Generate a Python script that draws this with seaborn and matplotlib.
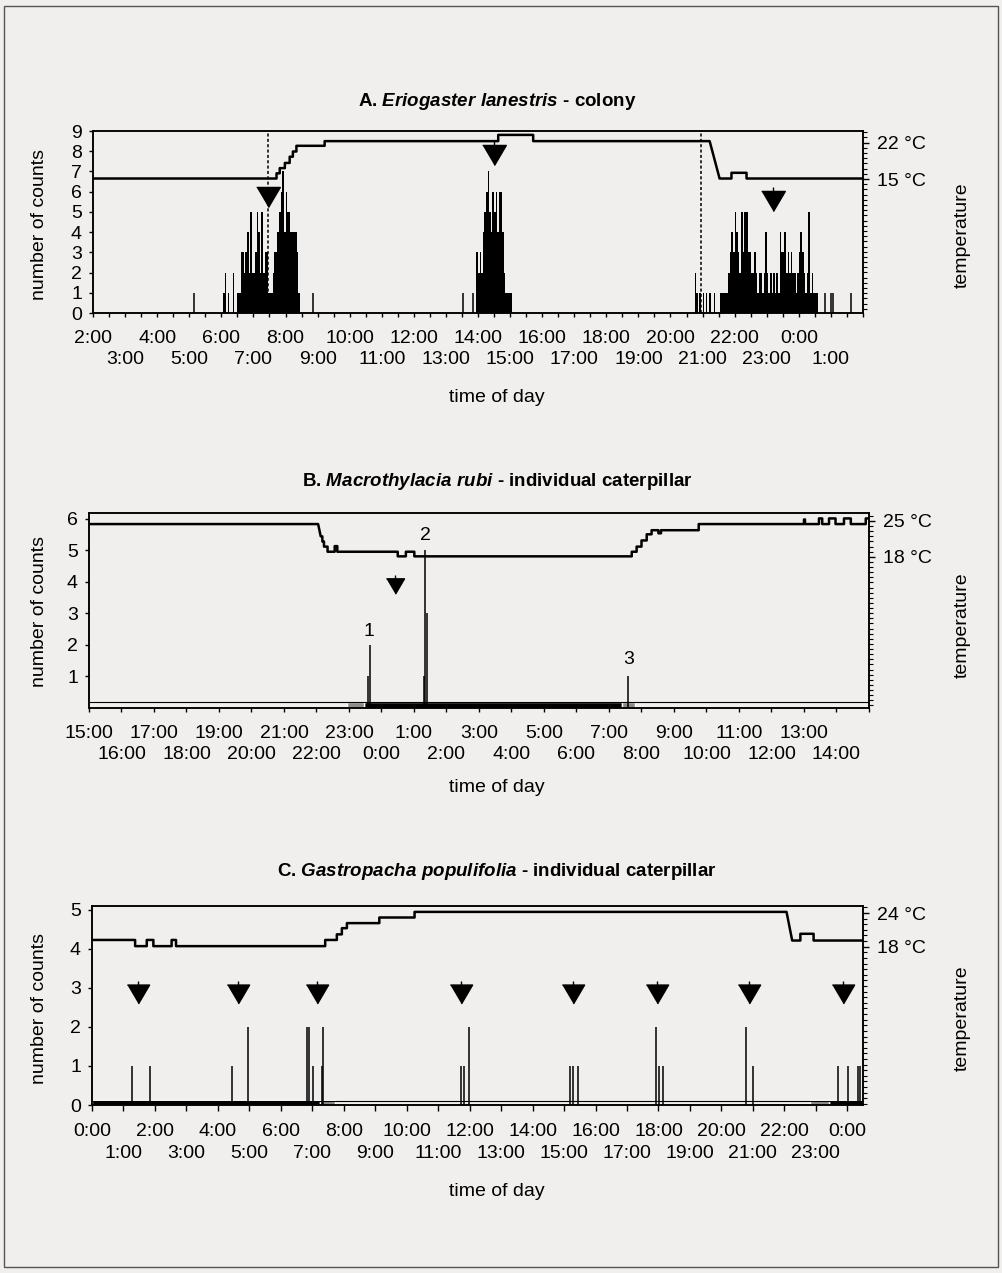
import numpy as np
import seaborn as sns
import matplotlib
matplotlib.use('Agg')
from matplotlib import pyplot as plt
from matplotlib.ticker import MultipleLocator, FixedLocator
from matplotlib.patches import Rectangle

BG = '#f0efed'
GRAY = '#8c8c8c'

# ---------------- A. Eriogaster lanestris - colony ----------------
# time in hours (2.0 = 2:00 of day 1, 26.0 = 2:00 of day 2), counts in 3-min bins
a_step = 0.05
a1_start = 6.05
a1_counts = [1, 2, 0, 1, 0, 0, 2, 0, 0, 1, 1, 3, 3, 2, 3, 4, 2, 5, 2, 2,
             3, 5, 4, 2, 5, 2, 3, 3, 1, 1, 1, 2, 3, 3, 4, 5, 6, 7, 4, 6,
             5, 5, 4, 4, 4, 4, 3, 1]
a2_start = 13.95
a2_counts = [3, 2, 3, 2, 4, 5, 6, 7, 5, 4, 6, 5, 6, 4, 6, 6, 4, 2, 1, 1, 1, 1]
a3_start = 20.75
a3_counts = [2, 1, 0, 1, 0, 1, 0, 1, 0, 1, 0, 0, 1, 0, 0, 0, 1, 1, 1, 1,
             1, 2, 3, 4, 3, 5, 4, 3, 2, 5, 3, 5, 5, 3, 3, 2, 2, 3, 2, 1,
             2, 2, 1, 2, 4, 2, 1, 2, 1, 2, 1, 2, 1, 4, 3, 3, 4, 2, 3, 2,
             3, 2, 2, 1, 2, 3, 4, 3, 2, 1, 2, 5, 1, 2, 1, 1, 1]
a_single_t = [5.15, 8.86, 13.52, 13.85, 24.8, 25.0, 25.05, 25.63]
a_single_n = [1, 1, 1, 1, 1, 1, 1, 1]
a_temp_t = [2.0, 7.72, 7.72, 7.82, 7.82, 7.98, 7.98, 8.13, 8.13, 8.23, 8.23, 8.34, 8.34,
            9.22, 9.22, 14.63, 14.63, 15.72, 15.72, 21.22, 21.53, 21.9, 21.9, 22.37, 22.37, 26.0]
a_temp_c = [15.1, 15.1, 16.1, 16.1, 17.1, 17.1, 18.1, 18.1, 19.3, 19.3, 20.3, 20.3, 21.4,
            21.4, 22.3, 22.3, 23.5, 23.5, 22.3, 22.3, 15.1, 15.1, 16.2, 16.2, 15.1, 15.1]
a_arrow_t = [7.47, 14.49, 23.2]
a_arrow_y = [5.72, 7.82, 5.54]
a_stem_top = [5.72, 8.56, 6.25]
a_dotted_t = [7.47, 20.96]

# ---------------- B. Macrothylacia rubi - individual caterpillar ----------------
b_bar_t = [23.60, 23.64, 25.31, 25.35, 25.39, 31.6]
b_bar_n = [1, 2, 1, 5, 3, 1]
b_label_t = [23.62, 25.35, 31.6]
b_label_y = [2.42, 5.49, 1.54]
b_label_txt = ['1', '2', '3']
b_temp_t = [15.0, 22.05, 22.13, 22.18, 22.18, 22.23, 22.23, 22.34, 22.34, 22.56, 22.56,
            22.64, 22.64, 24.5, 24.5, 24.75, 24.75, 25.01, 25.01, 31.70, 31.70, 31.85,
            31.85, 32.0, 32.0, 32.16, 32.16, 32.31, 32.31, 32.52, 32.52, 32.6, 32.6,
            33.76, 33.76, 37.0, 37.0, 37.03, 37.03, 37.46, 37.46, 37.56, 37.56, 37.77,
            37.77, 37.97, 37.97, 38.23, 38.23, 38.44, 38.44, 38.9, 38.9, 39.0]
b_temp_c = [24.4, 24.4, 22.0, 22.0, 21.0, 21.0, 20.0, 20.0, 19.0, 19.0, 20.1,
            20.1, 19.0, 19.0, 18.1, 18.1, 19.0, 19.0, 18.1, 18.1, 19.0, 19.0,
            20.0, 20.0, 21.2, 21.2, 22.4, 22.4, 23.2, 23.2, 22.6, 22.6, 23.2,
            23.2, 24.4, 24.4, 25.3, 25.3, 24.4, 24.4, 25.5, 25.5, 24.4, 24.4,
            25.5, 25.5, 24.4, 24.4, 25.5, 25.5, 24.4, 24.4, 25.5, 25.5]
b_arrow_t = [24.41]
b_arrow_y = [3.86]
b_stem_top = [4.22]
b_dark = [(23.46, 31.39)]
b_dusk = [(22.95, 23.46), (31.39, 31.79)]

# ---------------- C. Gastropacha populifolia - individual caterpillar ----------------
c_bar_t = [1.26, 1.84, 4.44, 4.95, 6.84, 6.88, 7.02, 7.32, 7.35, 11.72, 11.81, 11.98,
           15.2, 15.3, 15.44, 17.92, 18.03, 18.15, 20.78, 21.0, 23.7, 24.03, 24.34, 24.42]
c_bar_n = [1, 1, 1, 2, 2, 2, 1, 1, 2, 1, 1, 2,
           1, 1, 1, 2, 1, 1, 2, 1, 1, 1, 1, 1]
c_temp_t = [0.0, 1.37, 1.37, 1.74, 1.74, 1.95, 1.95, 2.53, 2.53, 2.67, 2.67, 7.41, 7.41,
            7.78, 7.78, 7.94, 7.94, 8.1, 8.1, 9.13, 9.13, 10.25, 10.25, 22.07, 22.25,
            22.51, 22.51, 22.93, 22.93, 24.5]
c_temp_c = [19.2, 19.2, 18.1, 18.1, 19.2, 19.2, 18.1, 18.1, 19.2, 19.2, 18.1, 18.1, 19.2,
            19.2, 20.2, 20.2, 21.3, 21.3, 22.2, 22.2, 23.2, 23.2, 24.2, 24.2, 19.1,
            19.1, 20.3, 20.3, 19.1, 19.1]
c_arrow_t = [1.45, 4.65, 7.14, 11.72, 15.3, 17.95, 20.87, 23.87]
c_arrow_y = [2.85] * 8
c_stem_top = [3.19] * 8
c_dark = [(0.0, 7.25), (23.41, 24.5)]
c_dusk = [(7.25, 7.73), (22.83, 23.41)]

sns.set_theme(style='ticks', rc={'axes.facecolor': BG, 'figure.facecolor': BG,
                                 'axes.edgecolor': 'black', 'axes.linewidth': 1.1,
                                 'xtick.color': 'black', 'ytick.color': 'black',
                                 'text.color': 'black'})
plt.rcParams['font.family'] = ['Liberation Sans', 'DejaVu Sans']
plt.rcParams['mathtext.fontset'] = 'custom'
plt.rcParams['mathtext.it'] = 'Liberation Sans:italic:bold'

W, H = 1003, 1273
fig = plt.figure(figsize=(W / 100, H / 100), dpi=100)
fig.patches.append(Rectangle((4 / W, 6 / H), 994 / W, 1261 / H, transform=fig.transFigure,
                             fill=False, lw=1.0, ec='#555555'))

TRI = [(-1, 0.85), (1, 0.85), (0, -0.85)]
LAB = 14


def px_axes(left, top, right, bottom):
    return fig.add_axes([left / W, 1 - bottom / H, (right - left) / W, (bottom - top) / H])


def hour_ticks(ax, first, last, ticklen, minor_step):
    # two label rows: every other hour on the first row, the rest one row lower
    row1 = list(range(first, last + 1, 2))
    row2 = list(range(first + 1, last + 1, 2))
    ax.xaxis.set_major_locator(FixedLocator(row1))
    ax.set_xticklabels(['%d:00' % (h % 24) for h in row1])
    ax.xaxis.set_minor_locator(MultipleLocator(minor_step))
    ax.tick_params(axis='x', which='both', direction='out', length=ticklen, width=1,
                   labelsize=LAB, pad=9)
    sec = ax.secondary_xaxis('bottom')
    sec.set_xticks(row2)
    sec.set_xticklabels(['%d:00' % (h % 24) for h in row2])
    sec.tick_params(axis='x', length=0, labelsize=LAB, pad=ticklen + 9 + 15.5)
    sec.spines['bottom'].set_visible(False)


def temp_axis(ax, lo, hi, ticks, t, c):
    tax = ax.twinx()
    sns.lineplot(x=t, y=c, ax=tax, sort=False, estimator=None, color='black', lw=1.8)
    tax.set_ylim(lo, hi)
    tax.set_yticks(ticks)
    tax.set_yticklabels(['%d °C' % v for v in ticks])
    tax.yaxis.set_minor_locator(MultipleLocator(1))
    tax.tick_params(axis='y', which='major', length=4, width=1, pad=6, labelsize=LAB)
    tax.tick_params(axis='y', which='minor', length=3, width=0.8)
    tax.set_ylabel('')
    tax.set_xlabel('')
    return tax


def arrows(ax, t, y, top, ms):
    ax.vlines(t, y, top, color='black', lw=1)
    ax.plot(t, y, ls='none', marker=TRI, ms=ms, color='black', mec='black')


def style_axes(ax):
    ax.tick_params(axis='y', which='both', direction='out', length=3, width=1,
                   labelsize=LAB, pad=5)
    for s in ax.spines.values():
        s.set_visible(True)
        s.set_color('black')


def texts(title_y, xlab_y, ylab_y, temp_y, title):
    fig.text(497 / W, 1 - title_y / H, title, ha='center', va='center', fontsize=13.5,
             fontweight='bold')
    fig.text(497 / W, 1 - xlab_y / H, 'time of day', ha='center', va='center', fontsize=LAB)
    fig.text(40 / W, 1 - ylab_y / H, 'number of counts', ha='center', va='center',
             fontsize=14, rotation=90)
    fig.text(962 / W, 1 - temp_y / H, 'temperature', ha='center', va='center',
             fontsize=14, rotation=90)


# ---------- panel A ----------
axA = px_axes(93, 131, 863, 313)
for start, counts in [(a1_start, a1_counts), (a2_start, a2_counts), (a3_start, a3_counts)]:
    tt = start + a_step * np.arange(len(counts))
    axA.bar(tt, counts, width=a_step, align='edge', color='black', lw=0)
axA.vlines(a_single_t, 0, a_single_n, color='black', lw=1.1)
for t in a_dotted_t:
    axA.axvline(t, color='black', lw=1.1, ls=(0, (2, 1.5)))
arrows(axA, a_arrow_t, a_arrow_y, a_stem_top, 17)
axA.set_xlim(2, 26)
axA.set_ylim(0, 9)
axA.set_yticks(range(0, 10))
style_axes(axA)
hour_ticks(axA, 2, 25, 3, 0.5)
temp_axis(axA, -10.8, 24.25, [15, 22], a_temp_t, a_temp_c)
texts(101, 397, 224, 235,
      r'A. $\mathit{Eriogaster\ lanestris}$ - colony')

# ---------- panel B ----------
axB = px_axes(89, 513, 869, 708)
for s, e in b_dark:
    axB.broken_barh([(s, e - s)], (0, 0.19), facecolors='black')
for s, e in b_dusk:
    axB.broken_barh([(s, e - s)], (0, 0.19), facecolors=GRAY)
axB.axhline(0.19, color='black', lw=0.8)
axB.vlines(b_bar_t, 0, b_bar_n, color='black', lw=1.1)
for t, y, s in zip(b_label_t, b_label_y, b_label_txt):
    axB.text(t, y, s, ha='center', va='center', fontsize=LAB)
arrows(axB, b_arrow_t, b_arrow_y, b_stem_top, 13)
axB.set_xlim(15, 39)
axB.set_ylim(0, 6.19)
axB.set_yticks(range(1, 7))
style_axes(axB)
hour_ticks(axB, 15, 38, 3, 1)
temp_axis(axB, -11.5, 26.56, [18, 25], b_temp_t, b_temp_c)
texts(481, 788, 612, 625,
      r'B. $\mathit{Macrothylacia\ rubi}$ - individual caterpillar')

# ---------- panel C ----------
axC = px_axes(92, 906, 863, 1105)
for s, e in c_dark:
    axC.broken_barh([(s, e - s)], (0, 0.13), facecolors='black')
for s, e in c_dusk:
    axC.broken_barh([(s, e - s)], (0, 0.13), facecolors=GRAY)
axC.axhline(0.1, color='black', lw=0.8)
axC.vlines(c_bar_t, 0, c_bar_n, color='black', lw=1.1)
arrows(axC, c_arrow_t, c_arrow_y, c_stem_top, 16)
axC.set_xlim(0, 24.5)
axC.set_ylim(0, 5.1)
axC.set_yticks(range(0, 6))
style_axes(axC)
hour_ticks(axC, 0, 24, 4, 1)
temp_axis(axC, -10.2, 25.25, [18, 24], c_temp_t, c_temp_c)
texts(871, 1192, 1008, 1018,
      r'C. $\mathit{Gastropacha\ populifolia}$ - individual caterpillar')

fig.savefig('out.png', dpi=100, facecolor=BG)
